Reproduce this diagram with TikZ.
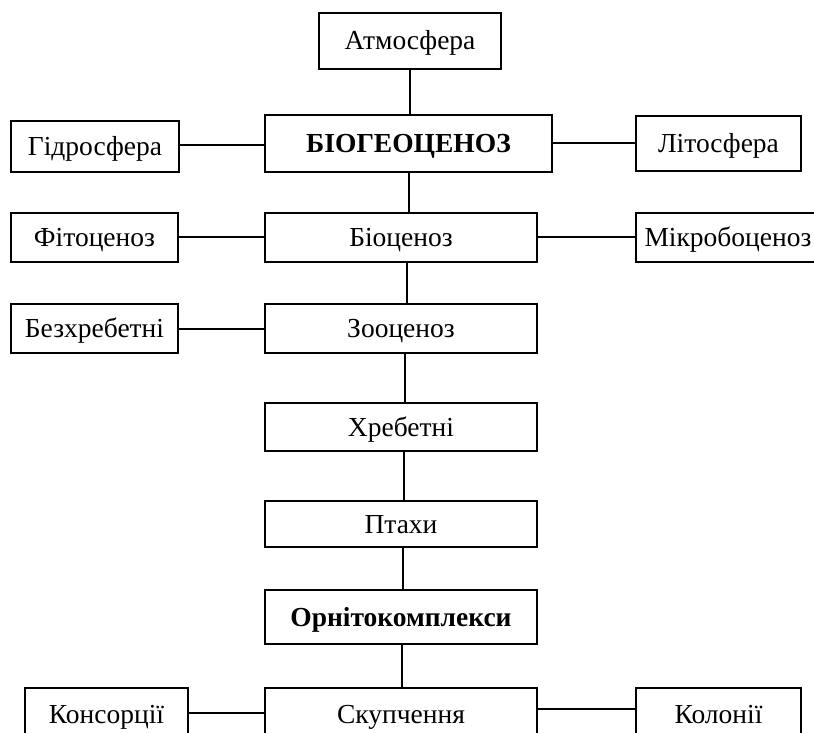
\documentclass[tikz,border=0pt]{standalone}
\usepackage{fontspec}
\setmainfont{Liberation Serif}
\begin{document}
\begin{tikzpicture}[x=1pt,y=-1pt,
  bx/.style={draw,line width=1.8pt,inner sep=0pt,text height=18pt,text depth=0pt,font=\fontsize{27.5}{33}\selectfont},
  bbx/.style={bx,font=\fontsize{27.5}{33}\selectfont\bfseries},
  cn/.style={line width=1.5pt}]
\useasboundingbox (0,0) rectangle (814,733);
\clip (0,0) rectangle (814,733);
\node[bx,minimum width=182pt,minimum height=56pt] (atm) at (410,41) {Атмосфера};
\node[bbx,minimum width=287pt,minimum height=57pt] (biog) at (408.5,143.5) {БІОГЕОЦЕНОЗ};
\node[bx,minimum width=168pt,minimum height=51pt] (gidro) at (95,146.5) {Гідросфера};
\node[bx,minimum width=165pt,minimum height=55pt] (lito) at (718.5,143.5) {Літосфера};
\node[bx,minimum width=167pt,minimum height=49pt] (fito) at (94.5,237.5) {Фітоценоз};
\node[bx,minimum width=272pt,minimum height=49pt] (bioc) at (401,237.5) {Біоценоз};
\node[bx,minimum width=184pt,minimum height=49pt] (mikro) at (728,237.5) {Мікробоценоз};
\node[bx,minimum width=167pt,minimum height=49pt] (bezx) at (94.5,328.5) {Безхребетні};
\node[bx,minimum width=272pt,minimum height=49pt] (zoo) at (401,328.5) {Зооценоз};
\node[bx,minimum width=272pt,minimum height=48pt] (xreb) at (401,427) {Хребетні};
\node[bx,minimum width=272pt,minimum height=46pt] (ptax) at (401,524) {Птахи};
\node[bbx,minimum width=272pt,minimum height=54pt] (orn) at (401,617) {Орнітокомплекси};
\node[bx,minimum width=163pt,minimum height=52pt] (kons) at (106.5,714) {Консорції};
\node[bx,minimum width=272pt,minimum height=52pt] (skup) at (401,714) {Скупчення};
\node[bx,minimum width=165pt,minimum height=52pt] (kolon) at (718.5,714) {Колонії};
% vertical connectors
\draw[cn] (atm.south -| 410,0) -- (biog.north -| 410,0);
\draw[cn] (biog.south -| 409,0) -- (bioc.north -| 409,0);
\draw[cn] (bioc.south -| 407,0) -- (zoo.north -| 407,0);
\draw[cn] (zoo.south -| 405,0) -- (xreb.north -| 405,0);
\draw[cn] (xreb.south -| 404,0) -- (ptax.north -| 404,0);
\draw[cn] (ptax.south -| 403,0) -- (orn.north -| 403,0);
\draw[cn] (orn.south -| 402,0) -- (skup.north -| 402,0);
% horizontal connectors
\draw[cn] (gidro.east |- 0,145) -- (biog.west |- 0,145);
\draw[cn] (biog.east |- 0,143) -- (lito.west |- 0,143);
\draw[cn] (fito.east |- 0,237) -- (bioc.west |- 0,237);
\draw[cn] (bioc.east |- 0,237) -- (mikro.west |- 0,237);
\draw[cn] (bezx.east |- 0,329) -- (zoo.west |- 0,329);
\draw[cn] (kons.east |- 0,713) -- (skup.west |- 0,713);
\draw[cn] (skup.east |- 0,709) -- (kolon.west |- 0,709);
\end{tikzpicture}
\end{document}
